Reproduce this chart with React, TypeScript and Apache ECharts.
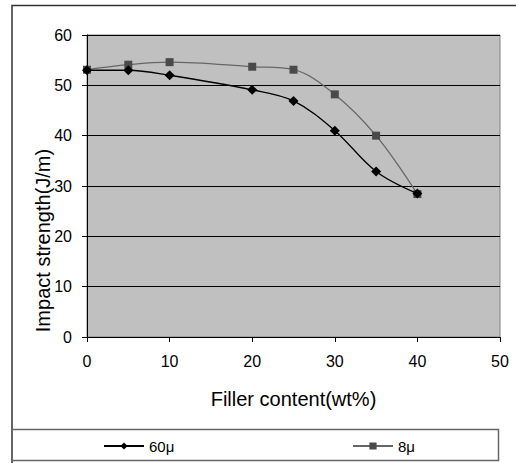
import React, { useEffect, useRef } from "react";
import * as echarts from "echarts";

const fillerContent = [0, 5, 10, 20, 25, 30, 35, 40];
const impact60 = [53, 53, 52, 49.1, 46.9, 41, 32.9, 28.5];
const impact8 = [53.1, 54.1, 54.6, 53.7, 53.1, 48.2, 40, 28.4];
const seriesNames = ["60μ", "8μ"];
const xTitle = "Filler content(wt%)";
const yTitle = "Impact strength(J/m)";

const FONT = "'Liberation Sans', Arial, sans-serif";

export default function App() {
  const ref = useRef<HTMLDivElement>(null);
  useEffect(() => {
    if (!ref.current) return;
    const chart = echarts.init(ref.current, undefined, { renderer: "svg" });
    const pts = (ys: number[]) => fillerContent.map((x, i) => [x, ys[i]]);
    chart.setOption({
      animation: false,
      backgroundColor: "#ffffff",
      textStyle: { fontFamily: FONT, color: "#000" },
      grid: { left: 87, top: 35, right: 16, bottom: 126, show: true, backgroundColor: "#c0c0c0", borderColor: "#808080", borderWidth: 1 },
      graphic: [
        { type: "rect", shape: { x: 12, y: 5.5, width: 600, height: 600 }, style: { fill: "none", stroke: "#333", lineWidth: 1.5 }, z: 100 },
        { type: "rect", shape: { x: 12, y: 429.5, width: 486.5, height: 31 }, style: { fill: "none", stroke: "#666", lineWidth: 1.5 }, z: 100 },
        {
          type: "text", x: 43, y: 240.5, rotation: Math.PI / 2, z: 100,
          style: { text: yTitle, fontSize: 20, fontFamily: FONT, fill: "#000", align: "center", verticalAlign: "middle" },
        },
      ],
      xAxis: {
        type: "value", min: 0, max: 50, interval: 10,
        name: xTitle, nameLocation: "middle", nameGap: 52,
        nameTextStyle: { fontSize: 20, fontFamily: FONT, color: "#000" },
        axisLine: { show: true, onZero: false, lineStyle: { color: "#000", width: 1 } },
        axisTick: { show: true, inside: false, length: 5, lineStyle: { color: "#000" } },
        axisLabel: { fontSize: 16, margin: 16, color: "#000", fontFamily: FONT },
        splitLine: { show: false },
      },
      yAxis: {
        type: "value", min: 0, max: 60, interval: 10,
        axisLine: { show: true, lineStyle: { color: "#000", width: 1 } },
        axisTick: { show: true, inside: false, length: 5, lineStyle: { color: "#000" } },
        axisLabel: { fontSize: 16, margin: 15, color: "#000", fontFamily: FONT },
        splitLine: { show: true, lineStyle: { color: "#000", width: 1 } },
      },
      legend: [
        { data: [seriesNames[0]], left: 98, top: 433.5, itemWidth: 40, itemHeight: 9, textStyle: { fontSize: 15, fontFamily: FONT, color: "#000" } },
        { data: [seriesNames[1]], left: 347, top: 433.5, itemWidth: 40, itemHeight: 9, textStyle: { fontSize: 15, fontFamily: FONT, color: "#000" } },
      ],
      series: [
        {
          name: seriesNames[0], type: "line", data: pts(impact60), smooth: 0.35,
          symbol: "diamond", symbolSize: 10,
          itemStyle: { color: "#000" }, lineStyle: { color: "#000", width: 1.3 }, z: 3,
        },
        {
          name: seriesNames[1], type: "line", data: pts(impact8), smooth: 0.35,
          symbol: "rect", symbolSize: 8,
          itemStyle: { color: "#4a4a4a" }, lineStyle: { color: "#666", width: 1.3 }, z: 2,
        },
      ],
    });
    return () => chart.dispose();
  }, []);
  return <div ref={ref} style={{ position: "fixed", left: 0, top: 0, width: 516, height: 463 }} />;
}
